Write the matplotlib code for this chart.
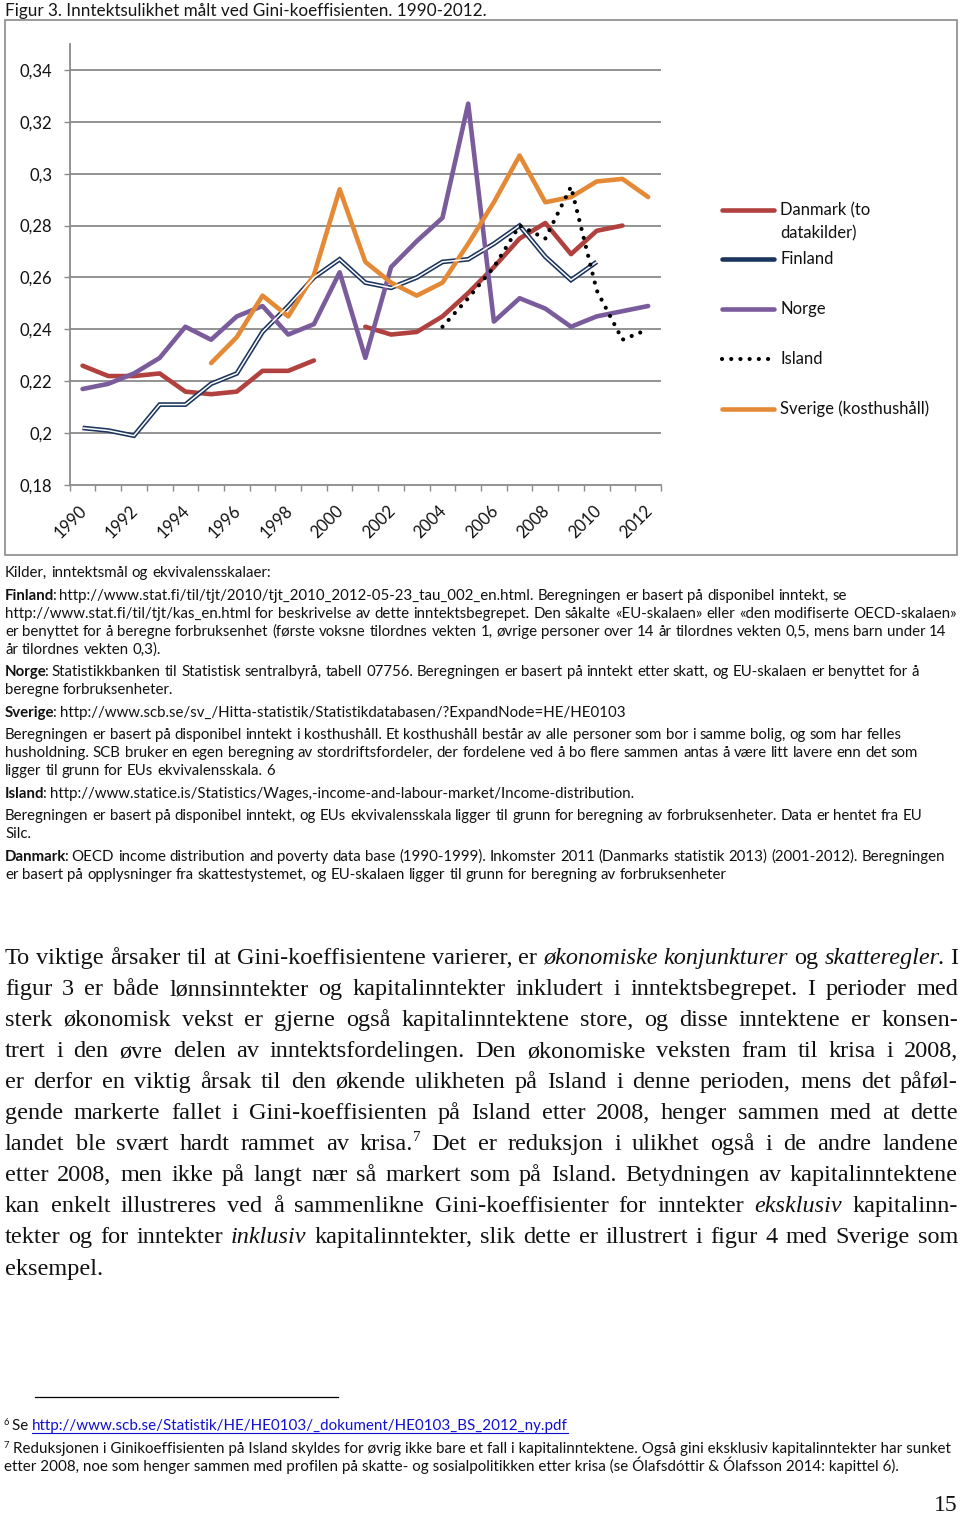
import numpy as np
import matplotlib
matplotlib.use('Agg')
import matplotlib.pyplot as plt
from matplotlib.patches import Rectangle
from matplotlib.transforms import ScaledTranslation

nan = np.nan
years = list(range(1990, 2013))
danmark = [0.226, 0.222, 0.222, 0.223, 0.216, 0.215, 0.216, 0.224, 0.224, 0.228, nan,
           0.241, 0.238, 0.239, 0.245, 0.254, 0.264, 0.275, 0.281, 0.269, 0.278, 0.280, nan]
finland = [0.202, 0.201, 0.199, 0.211, 0.211, 0.219, 0.223, 0.239, 0.249, 0.260, 0.267,
           0.258, 0.256, 0.260, 0.266, 0.267, 0.273, 0.280, 0.268, 0.259, 0.266, nan, nan]
norge = [0.217, 0.219, 0.223, 0.229, 0.241, 0.236, 0.245, 0.249, 0.238, 0.242, 0.262,
         0.229, 0.264, 0.274, 0.283, 0.327, 0.243, 0.252, 0.248, 0.241, 0.245, 0.247, 0.249]
island = [nan] * 14 + [0.241, 0.252, 0.264, 0.280, 0.275, 0.295, 0.255, 0.236, 0.240]
sverige = [nan] * 5 + [0.227, 0.237, 0.253, 0.245, 0.261, 0.294, 0.266, 0.258, 0.253,
                       0.258, 0.273, 0.289, 0.307, 0.289, 0.291, 0.297, 0.298, 0.291]

ytick_vals = [0.18, 0.20, 0.22, 0.24, 0.26, 0.28, 0.30, 0.32, 0.34]
ytick_labels = ['0,18', '0,2', '0,22', '0,24', '0,26', '0,28', '0,3', '0,32', '0,34']
year_labels = [str(y) for y in years[::2]]

legend_labels = ['Danmark (to\ndatakilder)', 'Finland', 'Norge', 'Island', 'Sverige (kosthushåll)']

title_text = 'Figur 3. Inntektsulikhet målt ved Gini-koeffisienten. 1990-2012.'

source_lines = [
    'Kilder, inntektsmål og ekvivalensskalaer:',
    '#Finland#: http://www.stat.fi/til/tjt/2010/tjt_2010_2012-05-23_tau_002_en.html. Beregningen er basert på disponibel inntekt, se',
    'http://www.stat.fi/til/tjt/kas_en.html for beskrivelse av dette inntektsbegrepet. Den såkalte «EU-skalaen» eller «den modifiserte OECD-skalaen»',
    'er benyttet for å beregne forbruksenhet (første voksne tilordnes vekten 1, øvrige personer over 14 år tilordnes vekten 0,5, mens barn under 14',
    'år tilordnes vekten 0,3).',
    '#Norge#: Statistikkbanken til Statistisk sentralbyrå, tabell 07756. Beregningen er basert på inntekt etter skatt, og EU-skalaen er benyttet for å',
    'beregne forbruksenheter.',
    '#Sverige#: http://www.scb.se/sv_/Hitta-statistik/Statistikdatabasen/?ExpandNode=HE/HE0103',
    'Beregningen er basert på disponibel inntekt i kosthushåll. Et kosthushåll består av alle personer som bor i samme bolig, og som har felles',
    'husholdning. SCB bruker en egen beregning av stordriftsfordeler, der fordelene ved å bo flere sammen antas å være litt lavere enn det som',
    'ligger til grunn for EUs ekvivalensskala. 6',
    '#Island#: http://www.statice.is/Statistics/Wages,-income-and-labour-market/Income-distribution.',
    'Beregningen er basert på disponibel inntekt, og EUs ekvivalensskala ligger til grunn for beregning av forbruksenheter. Data er hentet fra EU',
    'Silc.',
    '#Danmark#: OECD income distribution and poverty data base (1990-1999). Inkomster 2011 (Danmarks statistik 2013) (2001-2012). Beregningen',
    'er basert på opplysninger fra skattestystemet, og EU-skalaen ligger til grunn for beregning av forbruksenheter',
]
source_y = [572, 595, 613, 631, 649, 671, 689, 712, 734, 752, 770, 793, 815, 833, 856, 874]

body_lines = [
    'To viktige årsaker til at Gini-koeffisientene varierer, er *økonomiske konjunkturer* og *skatteregler*. I',
    'figur 3 er både lønnsinntekter og kapitalinntekter inkludert i inntektsbegrepet. I perioder med',
    'sterk økonomisk vekst er gjerne også kapitalinntektene store, og disse inntektene er konsen-',
    'trert i den øvre delen av inntektsfordelingen. Den økonomiske veksten fram til krisa i 2008,',
    'er derfor en viktig årsak til den økende ulikheten på Island i denne perioden, mens det påføl-',
    'gende markerte fallet i Gini-koeffisienten på Island etter 2008, henger sammen med at dette',
    'landet ble svært hardt rammet av krisa.^7^ Det er reduksjon i ulikhet også i de andre landene',
    'etter 2008, men ikke på langt nær så markert som på Island. Betydningen av kapitalinntektene',
    'kan enkelt illustreres ved å sammenlikne Gini-koeffisienter for inntekter *eksklusiv* kapitalinn-',
    'tekter og for inntekter *inklusiv* kapitalinntekter, slik dette er illustrert i figur 4 med Sverige som',
    'eksempel.',
]
body_y = [957, 988, 1019, 1050, 1081, 1112, 1143, 1174, 1205, 1236, 1268]

fn6_prefix = 'Se '
fn6_link = 'http://www.scb.se/Statistik/HE/HE0103/_dokument/HE0103_BS_2012_ny.pdf'
fn7_lines = [
    'Reduksjonen i Ginikoeffisienten på Island skyldes for øvrig ikke bare et fall i kapitalinntektene. Også gini eksklusiv kapitalinntekter har sunket',
    'etter 2008, noe som henger sammen med profilen på skatte- og sosialpolitikken etter krisa (se Ólafsdóttir & Ólafsson 2014: kapittel 6).',
]
page_number = '15'

SANS = ['Lato', 'DejaVu Sans']
SERIF = ['Liberation Serif', 'DejaVu Serif']

W, H = 960, 1515
fig = plt.figure(figsize=(W / 100, H / 100), dpi=100)
fig.patch.set_facecolor('white')

# ---------------- chart ----------------
L, R, T, B = 69.7, 661.0, 44.0, 485.0
ax = fig.add_axes([L / W, 1 - B / H, (R - L) / W, (B - T) / H])
x = np.arange(len(years))
GRID = '#8a8a8a'

c_dk = '#B0413E'
c_fi = '#1B355C'
c_no = '#7A5C9C'
c_sv = '#E48A37'
ISL_STYLE = dict(color='black', lw=3.0, linestyle=(0, (0.01, 2.2)), dash_capstyle='round')

ax.plot(x, danmark, color=c_dk, lw=3.3, solid_capstyle='round', solid_joinstyle='round', zorder=3)
ax.plot(x, finland, color=c_fi, lw=3.4, solid_capstyle='butt', solid_joinstyle='miter', zorder=3)
ax.plot(x, finland, color='white', lw=1.1, solid_capstyle='butt', solid_joinstyle='miter', zorder=3.1)
ax.plot(x, norge, color=c_no, lw=3.3, solid_capstyle='round', solid_joinstyle='round', zorder=3)
ax.plot(x, island, zorder=3.2, **ISL_STYLE)
ax.plot(x, sverige, color=c_sv, lw=3.3, solid_capstyle='round', solid_joinstyle='round', zorder=3)

ax.set_xlim(-0.5, len(years) - 0.5)
ax.set_ylim(0.18, 0.35)
ax.set_yticks(ytick_vals)
ax.set_yticklabels(ytick_labels, family=SANS, fontsize=12, color='#111111')
for v in ytick_vals[1:]:
    ax.axhline(v, color=GRID, lw=1.3, zorder=1)
ax.tick_params(axis='y', length=4, width=1.0, color=GRID, pad=8.5)
ax.set_xticks(np.arange(-0.5, len(years), 1.0))
ax.set_xticklabels([])
ax.tick_params(axis='x', which='major', length=4, width=1.0, color=GRID)
ax.set_xticks(x[::2], minor=True)
ax.set_xticklabels(year_labels, minor=True, rotation=45, ha='right', rotation_mode='anchor',
                   family=SANS, fontsize=12, color='#111111')
ax.tick_params(axis='x', which='minor', length=0, pad=13)
shift = ScaledTranslation(-4 / 100, 0, fig.dpi_scale_trans)
for lbl in ax.get_xticklabels(minor=True):
    lbl.set_transform(lbl.get_transform() + shift)
for s in ['top', 'right']:
    ax.spines[s].set_visible(False)
for s in ['left', 'bottom']:
    ax.spines[s].set_color(GRID)
    ax.spines[s].set_linewidth(1.3)
ax.set_facecolor('none')

# ---------------- overlay in pixel coordinates ----------------
ov = fig.add_axes([0, 0, 1, 1], zorder=-1)
ov.set_xlim(0, W)
ov.set_ylim(H, 0)
ov.axis('off')
ov.patch.set_alpha(0)
ov2 = fig.add_axes([0, 0, 1, 1], zorder=5)
ov2.set_xlim(0, W)
ov2.set_ylim(H, 0)
ov2.axis('off')
ov2.patch.set_alpha(0)

ov.add_patch(Rectangle((5, 20), 952, 535, fill=False, edgecolor=GRID, lw=1.2))

renderer = fig.canvas.get_renderer()


def measure(text, **kw):
    t = ov2.text(0, 0, text, **kw)
    w = t.get_window_extent(renderer).width
    t.remove()
    return w


def advance(text, **kw):
    return measure(text + 'l', **kw) - measure('l', **kw)


def fit(text, target, family, **kw):
    w = measure(text, family=family, fontsize=10, **kw)
    return 10 * target / w


# legend
leg_y = [210, 259, 309, 359, 409]
leg_styles = [dict(color=c_dk, lw=3.3, solid_capstyle='round'),
              dict(color=c_fi, lw=3.3, solid_capstyle='round'),
              dict(color=c_no, lw=3.3, solid_capstyle='round'),
              ISL_STYLE,
              dict(color=c_sv, lw=3.3, solid_capstyle='round')]
for yy, st, lab in zip(leg_y, leg_styles, legend_labels):
    ov2.plot([722, 774], [yy, yy], **st)
    for k, ln in enumerate(lab.split('\n')):
        ov2.text(780, yy + 23 * k, ln, family=SANS, fontsize=12, va='center', ha='left', color='#111111')

# title
ts = fit(title_text, 482, SANS)
ov2.text(5, 16, title_text, family=SANS, fontsize=ts, ha='left', va='baseline', color='#161616')


def parse(s):
    runs = []
    style = 'n'
    buf = ''
    codes = {'*': 'i', '#': 'b', '^': 's'}
    for ch in s:
        if ch in codes:
            if buf:
                runs.append((buf, style))
                buf = ''
            style = 'n' if style == codes[ch] else codes[ch]
        else:
            buf += ch
    if buf:
        runs.append((buf, style))
    words = [[]]
    for text, st in runs:
        parts = text.split(' ')
        for k, p in enumerate(parts):
            if k > 0:
                words.append([])
            if p:
                words[-1].append((p, st))
    return [w for w in words if w]


def run_props(st, family, size):
    p = dict(family=family, fontsize=size)
    if st == 'i':
        p['style'] = 'italic'
    elif st == 'b':
        p['weight'] = 'bold'
    elif st == 's':
        p['fontsize'] = size * 0.62
    return p


def line_metrics(s, family, size):
    words = parse(s)
    widths = []
    for w in words:
        ws = []
        for j, (t, st) in enumerate(w):
            wd = advance(t, **run_props(st, family, size))
            if j < len(w) - 1:
                if st == 'b':
                    wd -= 2.5
                elif st == 'i':
                    wd -= 2.0
            ws.append(wd)
        widths.append(ws)
    space = advance(' ', family=family, fontsize=size)
    return words, widths, space


def draw_line(s, y, x0, x1, family, size, justify, color='#111111'):
    words, widths, space = line_metrics(s, family, size)
    total = sum(sum(ws) for ws in widths)
    if justify and len(words) > 1:
        gap = (x1 - x0 - total) / (len(words) - 1)
    else:
        gap = space
    cx = x0
    for w, ws in zip(words, widths):
        for (t, st), wd in zip(w, ws):
            dy = -size * 100 / 72 * 0.38 if st == 's' else 0
            ov2.text(cx, y + dy, t, ha='left', va='baseline', color=color, **run_props(st, family, size))
            cx += wd
        cx += gap


# source block
ss = fit(source_lines[3], 945, SANS)
for s, yy in zip(source_lines, source_y):
    draw_line(s, yy + 5, 5, 950, SANS, ss, False)

# body text: font size chosen so the tightest justified line fits the measure
sizes = []
for s in body_lines[:-1]:
    words, widths, space = line_metrics(s, SERIF, 10)
    nat = sum(sum(ws) for ws in widths) + space * (len(words) - 1)
    sizes.append(10 * 953 / nat)
bs = min(sizes) * 0.995
for k, (s, yy) in enumerate(zip(body_lines, body_y)):
    draw_line(s, yy + 7, 5, 958, SERIF, bs, k < len(body_lines) - 1)

# footnotes
ov2.plot([35, 338], [1397, 1397], color='black', lw=0.9)
fs = fit(fn7_lines[0], 933, SANS)
ov2.text(4, 1425, '6', family=SANS, fontsize=fs * 0.62, ha='left', va='baseline', color='#111111')
ov2.text(12, 1430, fn6_prefix, family=SANS, fontsize=fs, ha='left', va='baseline', color='#111111')
pw = advance(fn6_prefix, family=SANS, fontsize=fs)
ov2.text(12 + pw, 1430, fn6_link, family=SANS, fontsize=fs, ha='left', va='baseline', color='#1010D0')
lw_ = measure(fn6_link, family=SANS, fontsize=fs)
ov2.plot([12 + pw, 12 + pw + lw_], [1432.5, 1432.5], color='#1010D0', lw=0.8)
ov2.text(4, 1448, '7', family=SANS, fontsize=fs * 0.62, ha='left', va='baseline', color='#111111')
ov2.text(13, 1453, fn7_lines[0], family=SANS, fontsize=fs, ha='left', va='baseline', color='#111111')
ov2.text(4, 1471, fn7_lines[1], family=SANS, fontsize=fs, ha='left', va='baseline', color='#111111')

ov2.text(958, 1511, page_number, family=SERIF, fontsize=17, ha='right', va='baseline', color='#111111')

fig.savefig('out.png', dpi=100, facecolor='white')
